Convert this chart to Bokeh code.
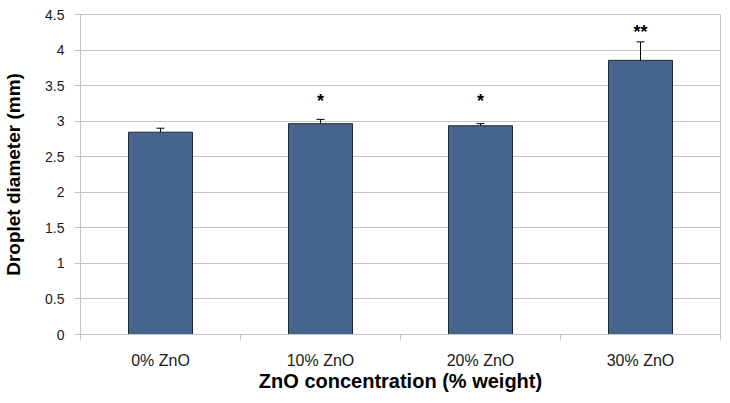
from bokeh.plotting import figure
from bokeh.models import (ColumnDataSource, Range1d, FixedTicker, Whisker, TeeHead,
                          CustomJSTickFormatter)
from bokeh.core.properties import value
from bokeh.embed import file_html
from bokeh.resources import INLINE

# ---- data ----
categories = ["0% ZnO", "10% ZnO", "20% ZnO", "30% ZnO"]
diameter = [2.845, 2.965, 2.935, 3.855]
err = [0.056, 0.06, 0.03, 0.26]
star_cats = ["10% ZnO", "20% ZnO", "30% ZnO"]
star_text = ["*", "*", "**"]
star_y = [3.29, 3.29, 4.25]
y_ticks = [0, 0.5, 1, 1.5, 2, 2.5, 3, 3.5, 4, 4.5]

FONT = "Liberation Sans"
GRID = "#c4c4c4"

n = len(categories)
xpos = [i + 0.5 for i in range(n)]
src = ColumnDataSource(dict(
    x=xpos, val=diameter,
    lo=[v - e for v, e in zip(diameter, err)],
    hi=[v + e for v, e in zip(diameter, err)],
))

p = figure(frame_width=640, frame_height=320, output_backend="svg", toolbar_location=None,
           x_range=Range1d(0, n), y_range=Range1d(0, 4.5),
           min_border_left=73, min_border_right=1,
           min_border_top=14, min_border_bottom=50)
p.background_fill_color = "white"
p.border_fill_color = "white"
p.outline_line_color = GRID
p.outline_line_width = 1

# bars
p.vbar(x="x", top="val", width=0.4, source=src, fill_color="#46658c",
       line_color="#1c2a3d", line_width=1)

# error bars
wh = Whisker(base="x", upper="hi", lower="lo", source=src,
             line_color="black", line_width=1,
             upper_head=TeeHead(size=8, line_color="black", line_width=1),
             lower_head=TeeHead(size=8, line_color="black", line_width=1))
p.add_layout(wh)

# significance stars
star_x = [categories.index(c) + 0.5 for c in star_cats]
p.text(x=star_x, y=star_y, text=star_text, text_align="center",
       text_baseline="alphabetic", text_font=value(FONT),
       text_font_style="bold", text_font_size="18px", text_color="black")

# y axis
ya = p.yaxis[0]
ya.ticker = FixedTicker(ticks=y_ticks)
ya.formatter = CustomJSTickFormatter(code="return tick.toString();")
ya.axis_line_color = GRID
ya.major_tick_line_color = GRID
ya.major_tick_out = 6
ya.major_tick_in = 0
ya.minor_tick_line_color = None
ya.major_label_standoff = 10
ya.major_label_text_font = FONT
ya.major_label_text_font_size = "14px"
ya.major_label_text_color = "#1a1a1a"
ya.axis_label = "Droplet diameter (mm)"
ya.axis_label_text_font = FONT
ya.axis_label_text_font_style = "bold"
ya.axis_label_text_font_size = "19px"
ya.axis_label_text_color = "black"
ya.axis_label_standoff = 18

p.ygrid.grid_line_color = GRID
p.ygrid.ticker = FixedTicker(ticks=y_ticks)
p.xgrid.grid_line_color = None

# x axis: labels at category centres, tick marks at category boundaries
xa = p.xaxis[0]
xa.ticker = FixedTicker(ticks=xpos, minor_ticks=list(range(n + 1)))
xa.formatter = CustomJSTickFormatter(args=dict(labels=categories),
                                     code="return labels[Math.floor(tick)];")
xa.axis_line_color = GRID
xa.major_tick_line_color = None
xa.major_tick_out = 0
xa.major_tick_in = 0
xa.minor_tick_line_color = GRID
xa.minor_tick_out = 6
xa.minor_tick_in = 0
xa.major_label_standoff = 11
xa.major_label_text_font = FONT
xa.major_label_text_font_size = "16px"
xa.major_label_text_color = "#1a1a1a"
xa.axis_label = "ZnO concentration (% weight)"
xa.axis_label_text_font = FONT
xa.axis_label_text_font_style = "bold"
xa.axis_label_text_font_size = "20px"
xa.axis_label_text_color = "black"
xa.axis_label_standoff = -2

open("out.html", "w").write(file_html(p, INLINE))
